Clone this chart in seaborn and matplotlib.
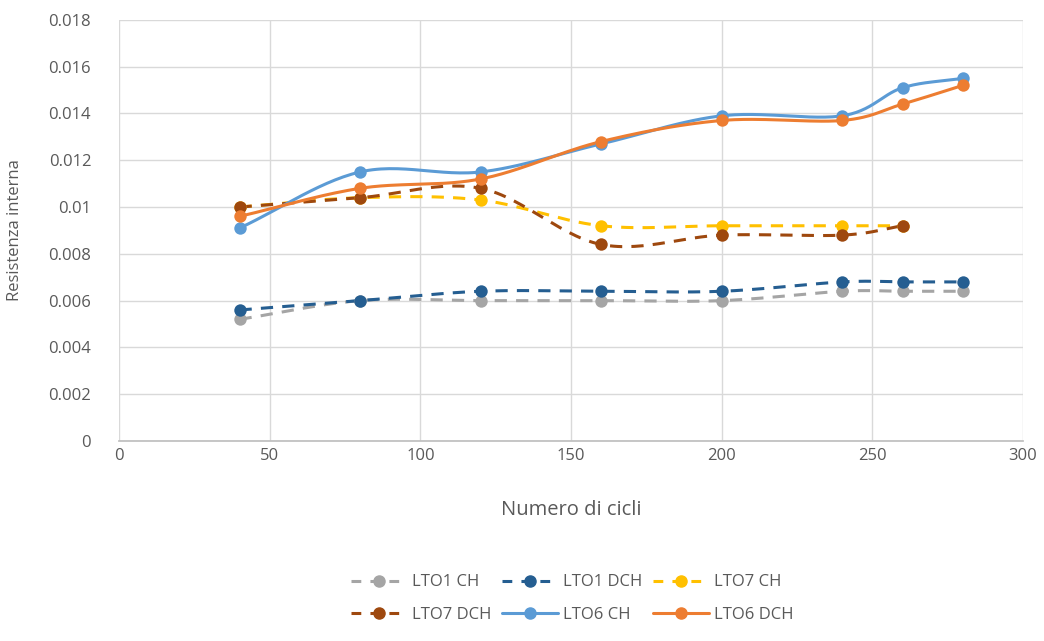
import numpy as np
import pandas as pd
import matplotlib
matplotlib.use("Agg")
import matplotlib.pyplot as plt
import seaborn as sns
from matplotlib.lines import Line2D
from matplotlib.ticker import FuncFormatter, MultipleLocator

cycles = [40, 80, 120, 160, 200, 240, 260, 280]
lto1_ch = [0.0052, 0.0060, 0.0060, 0.0060, 0.0060, 0.0064, 0.0064, 0.0064]
lto1_dch = [0.0056, 0.0060, 0.0064, 0.0064, 0.0064, 0.0068, 0.0068, 0.0068]
cycles7 = [40, 80, 120, 160, 200, 240, 260]
lto7_ch = [0.0100, 0.0104, 0.0103, 0.0092, 0.0092, 0.0092, 0.0092]
lto7_dch = [0.0100, 0.0104, 0.0108, 0.0084, 0.0088, 0.0088, 0.0092]
lto6_ch = [0.0091, 0.0115, 0.0115, 0.0127, 0.0139, 0.0139, 0.0151, 0.0155]
lto6_dch = [0.0096, 0.0108, 0.0112, 0.0128, 0.0137, 0.0137, 0.0144, 0.0152]

series = [
    ("LTO1 CH", cycles, lto1_ch, "#A5A5A5", "--"),
    ("LTO1 DCH", cycles, lto1_dch, "#255E91", "--"),
    ("LTO7 CH", cycles7, lto7_ch, "#FFC000", "--"),
    ("LTO7 DCH", cycles7, lto7_dch, "#9E480E", "--"),
    ("LTO6 CH", cycles, lto6_ch, "#5B9BD5", "-"),
    ("LTO6 DCH", cycles, lto6_dch, "#ED7D31", "-"),
]


def smooth(x, y, n=30):
    x = np.asarray(x, float)
    y = np.asarray(y, float)
    px = np.concatenate([[2 * x[0] - x[1]], x, [2 * x[-1] - x[-2]]])
    py = np.concatenate([[2 * y[0] - y[1]], y, [2 * y[-1] - y[-2]]])
    xs, ys = [], []
    for i in range(1, len(px) - 2):
        p0x, p1x, p2x, p3x = px[i - 1:i + 3]
        p0y, p1y, p2y, p3y = py[i - 1:i + 3]
        c1x = p1x + (p2x - p0x) / 6
        c1y = p1y + (p2y - p0y) / 6
        c2x = p2x - (p3x - p1x) / 6
        c2y = p2y - (p3y - p1y) / 6
        t = np.linspace(0, 1, n)
        bx = (1 - t) ** 3 * p1x + 3 * (1 - t) ** 2 * t * c1x + 3 * (1 - t) * t ** 2 * c2x + t ** 3 * p2x
        by = (1 - t) ** 3 * p1y + 3 * (1 - t) ** 2 * t * c1y + 3 * (1 - t) * t ** 2 * c2y + t ** 3 * p2y
        xs.append(bx)
        ys.append(by)
    return np.concatenate(xs), np.concatenate(ys)


sns.set_theme(style="whitegrid")
plt.rcParams["font.family"] = ["Open Sans", "DejaVu Sans"]

fig = plt.figure(figsize=(10.44, 6.41), dpi=100)
ax = fig.add_axes([0.114, 0.312, 0.866, 0.657])

handles = []
for name, xv, yv, col, ls in series:
    sx, sy = smooth(xv, yv)
    ax.plot(sx, sy, color=col, lw=2.2, ls=ls, dashes=(4, 3) if ls == "--" else (None, None), zorder=3,
            solid_capstyle="round", dash_capstyle="butt")
    df = pd.DataFrame({"x": xv, "y": yv})
    sns.scatterplot(data=df, x="x", y="y", ax=ax, color=col, s=80, edgecolor=col, linewidth=0, zorder=4)
    if ls == "--":
        h = Line2D([], [], color=col, lw=2.2, ls="--", dashes=(3.2, 3.0), marker="o", markersize=8,
                   markeredgecolor=col)
    else:
        h = Line2D([], [], color=col, lw=2.2, ls="-", marker="o", markersize=8, markeredgecolor=col)
    handles.append((h, name))

ax.set_xlim(0, 300)
ax.set_ylim(0, 0.018)
ax.xaxis.set_major_locator(MultipleLocator(50))
ax.yaxis.set_major_locator(MultipleLocator(0.002))
ax.yaxis.set_major_formatter(FuncFormatter(lambda v, p: "0" if abs(v) < 1e-12 else ("%.3f" % v).rstrip("0")))
ax.grid(True, color="#D9D9D9", lw=1)
ax.set_facecolor("white")
for s in ax.spines.values():
    s.set_visible(False)
ax.spines["bottom"].set_visible(True)
ax.spines["bottom"].set_color("#BFBFBF")
ax.tick_params(axis="both", colors="#595959", labelsize=12, length=0)
ax.tick_params(axis="y", pad=20)
ax.tick_params(axis="x", pad=5)
ax.set_xlabel("Numero di cicli", fontsize=14.5, color="#595959", labelpad=26)
ax.set_ylabel("Resistenza interna", fontsize=12, color="#595959", labelpad=18)

order = [0, 3, 1, 4, 2, 5]
leg = fig.legend([handles[i][0] for i in order], [handles[i][1] for i in order], loc="center", ncol=3,
                 bbox_to_anchor=(0.548, 0.066), frameon=False, fontsize=12,
                 handlelength=3.4, columnspacing=0.6, handletextpad=0.3, labelspacing=1.0)
for t in leg.get_texts():
    t.set_color("#595959")

fig.savefig("out.png", dpi=100, facecolor="white")
